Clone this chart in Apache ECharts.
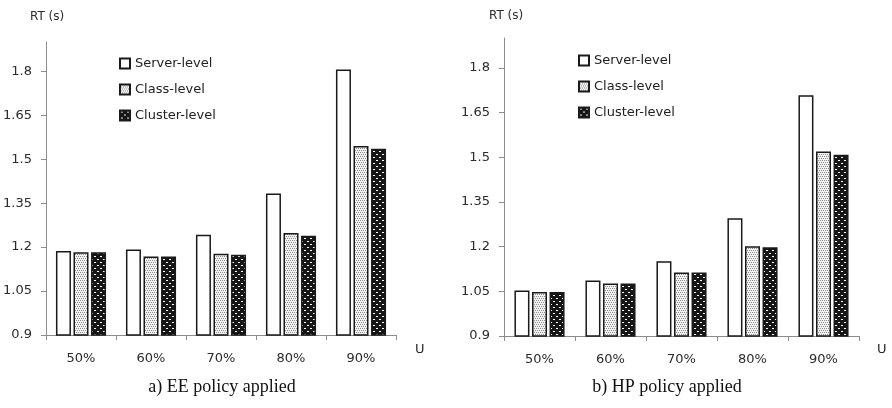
<!DOCTYPE html>
<html>
<head>
<meta charset="utf-8">
<script src="https://cdn.jsdelivr.net/npm/echarts@6/dist/echarts.min.js"></script>
<style>
  html, body { margin: 0; padding: 0; background: #fff; }
  #chart { width: 892px; height: 408px; }
</style>
</head>
<body>
<div id="chart"></div>
<script>
// Utilisation levels on the x axis
const categories = ['50%', '60%', '70%', '80%', '90%'];
// Response time (s) with the EE policy applied
const eeServer  = [1.187, 1.192, 1.242, 1.383, 1.806];
const eeClass   = [1.182, 1.168, 1.177, 1.248, 1.545];
const eeCluster = [1.182, 1.168, 1.174, 1.239, 1.536];
// Response time (s) with the HP policy applied
const hpServer  = [1.053, 1.086, 1.151, 1.295, 1.708];
const hpClass   = [1.048, 1.076, 1.113, 1.201, 1.519];
const hpCluster = [1.048, 1.076, 1.113, 1.198, 1.508];
// Labelled RT ticks
const yTicks = [0.9, 1.05, 1.2, 1.35, 1.5, 1.65, 1.8];
const seriesNames = ['Server-level', 'Class-level', 'Cluster-level'];
const captions = ['a) EE policy applied', 'b) HP policy applied'];

// Fill patterns for the hatched bars
function makeTile(w, h, bg, fg, dots) {
  const c = document.createElement('canvas');
  c.width = w; c.height = h;
  const g = c.getContext('2d');
  g.fillStyle = bg; g.fillRect(0, 0, w, h);
  g.fillStyle = fg;
  dots.forEach(d => g.fillRect(d[0], d[1], d[2], d[3]));
  return c;
}
const classTile = makeTile(4, 4, '#f2f2f2', '#8c8c8c',
  [[0, 0, 1, 1], [2, 0, 1, 1], [1, 2, 1, 1], [3, 2, 1, 1]]);
const clusterTile = makeTile(6, 6, '#161616', '#ffffff',
  [[1, 1, 2, 1], [4, 4, 2, 1]]);

const fills = [
  '#ffffff',
  { image: classTile, repeat: 'repeat' },
  { image: clusterTile, repeat: 'repeat' }
];

const fontSans = 'DejaVu Sans';
const labelColor = '#2b2b2b';

function yAxisFor(gridIndex) {
  return {
    type: 'value', gridIndex: gridIndex,
    min: 0.9, max: 1.9,
    splitLine: { show: false },
    axisLine: { show: true, lineStyle: { color: '#8c8c8c', width: 1 } },
    axisTick: { show: true, length: 5, customValues: yTicks, lineStyle: { color: '#8c8c8c' } },
    axisLabel: {
      customValues: yTicks, margin: 14,
      fontFamily: fontSans, fontSize: 13, color: labelColor,
      formatter: v => String(+v.toFixed(2))
    }
  };
}
function xAxisFor(gridIndex) {
  return {
    type: 'category', gridIndex: gridIndex, data: categories,
    axisLine: { show: true, lineStyle: { color: '#8c8c8c', width: 1 } },
    axisTick: { show: true, length: 5, lineStyle: { color: '#8c8c8c' } },
    axisLabel: { margin: 17, fontFamily: fontSans, fontSize: 13, color: labelColor }
  };
}
function barsFor(axisIndex, data) {
  return data.map((vals, i) => ({
    name: seriesNames[i], type: 'bar',
    xAxisIndex: axisIndex, yAxisIndex: axisIndex,
    data: vals, barWidth: 15, barGap: '17%',
    itemStyle: { color: fills[i], borderColor: '#1a1a1a', borderWidth: 1.5 },
    emphasis: { disabled: true }
  }));
}
function legendAt(left, top) {
  return {
    data: seriesNames, orient: 'vertical', left: left, top: top,
    icon: 'rect', itemWidth: 10, itemHeight: 10, itemGap: 13, padding: 0,
    selectedMode: false,
    textStyle: { fontFamily: fontSans, fontSize: 13, color: '#222' }
  };
}
function text(x, y, str, style) {
  return { type: 'text', x: x, y: y, style: Object.assign({ text: str }, style) };
}

const chart = echarts.init(document.getElementById('chart'), null, { renderer: 'canvas' });
chart.setOption({
  animation: false,
  grid: [
    { left: 46, top: 42, width: 350, height: 293 },
    { left: 504, top: 38, width: 355, height: 298 }
  ],
  xAxis: [xAxisFor(0), xAxisFor(1)],
  yAxis: [yAxisFor(0), yAxisFor(1)],
  legend: [legendAt(119, 57), legendAt(578, 54)],
  series: [].concat(
    barsFor(0, [eeServer, eeClass, eeCluster]),
    barsFor(1, [hpServer, hpClass, hpCluster])
  ),
  graphic: [
    text(30, 11, 'RT (s)', { font: '12px "DejaVu Sans"', fill: labelColor }),
    text(489, 10, 'RT (s)', { font: '12px "DejaVu Sans"', fill: labelColor }),
    text(415, 343, 'U', { font: '13px "DejaVu Sans"', fill: labelColor }),
    text(877, 343, 'U', { font: '13px "DejaVu Sans"', fill: labelColor }),
    text(222, 378, captions[0], { font: '18px "Liberation Serif"', fill: '#111', textAlign: 'center' }),
    text(667, 378, captions[1], { font: '18px "Liberation Serif"', fill: '#111', textAlign: 'center' })
  ]
});
</script>
</body>
</html>
